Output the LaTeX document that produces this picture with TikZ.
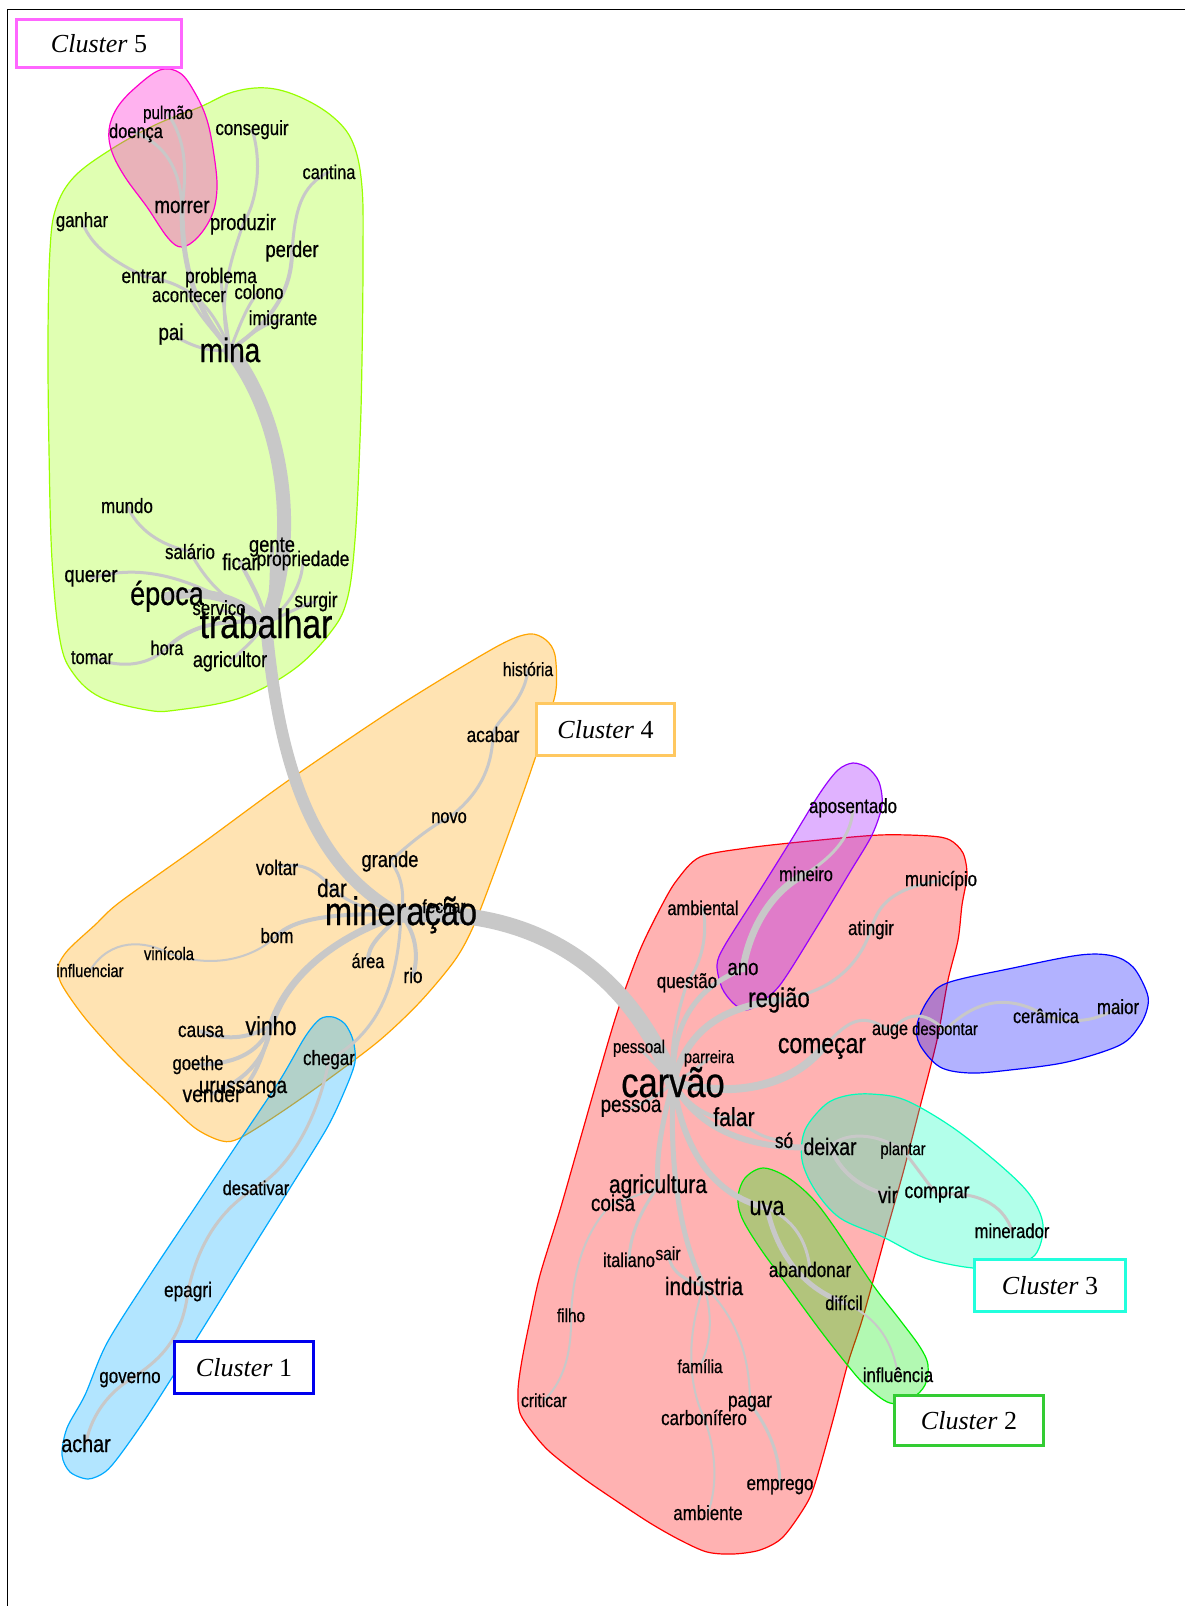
\documentclass[tikz,border=0pt]{standalone}
\usepackage{fontspec}
\newfontfamily\wf{Liberation Sans}[FakeStretch=0.82,FakeBold=0.6]
\newfontfamily\cf{Liberation Serif}
\pgfdeclarelayer{paper}
\pgfdeclarelayer{halos}
\pgfdeclarelayer{links}
\pgfsetlayers{paper,halos,links,main}
\definecolor{lkgray}{RGB}{200,200,200}
\definecolor{hgreen}{HTML}{99FF00}
\definecolor{hmag}{HTML}{FF00CC}
\definecolor{horange}{HTML}{FFA500}
\definecolor{hsky}{HTML}{00AAFF}
\definecolor{hred}{HTML}{FF0000}
\definecolor{hpurple}{HTML}{9900FF}
\definecolor{hblue}{HTML}{0000FF}
\definecolor{hcyan}{HTML}{00FFBB}
\definecolor{hlime}{HTML}{00EE00}
\definecolor{bmag}{HTML}{FF66FF}
\definecolor{borange}{HTML}{FFC860}
\definecolor{bblue}{HTML}{0000EE}
\definecolor{bcyan}{HTML}{22FFDD}
\definecolor{bgreen}{HTML}{33CC33}
\begin{document}
\begin{tikzpicture}[x=0.75pt,y=-0.75pt,
  w/.style={font=\wf\fontsize{#1}{#1}\selectfont, inner sep=0pt, anchor=base, text=black},
  lk/.style={draw=lkgray, line width=#1, line cap=round, line join=round},
  halo/.style={draw=#1, fill=#1, fill opacity=0.3, line width=0.9pt},
  cbox/.style={draw=#1, line width=2.25pt, fill=white, inner sep=0pt,
    font=\cf\fontsize{19.5}{19.5}\selectfont}]
\useasboundingbox (0,0) rectangle (1185,1606);
\begin{pgfonlayer}{paper}
\fill[white] (0,0) rectangle (1185,1606);
\end{pgfonlayer}
\draw[line width=1.3pt] (7.5,1606) -- (7.5,9.5) -- (1185,9.5);

% ---------- halos ----------
\begin{pgfonlayer}{halos}
\draw[halo=hgreen] plot[smooth cycle, tension=0.6] coordinates {
 (200,107) (233,92) (267,88) (300,97) (333,117) (353,143) (362,187) (363,260)
 (362,360) (360,440) (355,540) (347,600) (330,633) (293,670) (240,698) (177,710)
 (147,710) (100,697) (73,673) (60,640) (52,560) (49,450) (48,340) (50,250)
 (56,208) (74,177) (110,150) (155,125)};
\draw[halo=hmag] plot[smooth cycle, tension=0.6] coordinates {
 (160,70) (180,73) (195,93) (207,120) (214,155) (217,188) (212,215) (198,237)
 (182,247) (168,238) (147,207) (125,177) (112,152) (109,130) (117,108) (135,88)};
\draw[halo=horange] plot[smooth cycle, tension=0.5] coordinates {
 (529,634) (546,640) (555,655) (556,690) (546,725) (526,785) (496,868) (474,925)
 (455,960) (420,1002) (380,1040) (330,1078) (280,1113) (240,1138) (222,1141)
 (195,1128) (163,1098) (120,1057) (85,1018) (62,985) (58,967) (68,950) (95,925)
 (120,902) (200,845) (289,780) (400,705) (496,647)};
\draw[halo=hsky] plot[smooth cycle, tension=0.5] coordinates {
 (333,1017) (345,1024) (353,1040) (355,1062) (345,1090) (327,1128) (290,1188)
 (250,1252) (200,1333) (150,1412) (120,1455) (105,1472) (88,1479) (70,1472)
 (62,1455) (67,1428) (85,1395) (107,1343) (150,1275) (200,1200) (240,1140)
 (280,1080) (305,1037) (320,1019)};
\draw[halo=hred] plot[smooth cycle, tension=0.5] coordinates {
 (700,857) (747,848) (810,841) (880,835) (930,836) (950,840) (963,853) (967,875)
 (962,905) (958,940) (948,980) (937,1040) (920,1107) (903,1173) (885,1237)
 (863,1317) (848,1363) (833,1420) (817,1477) (807,1503) (783,1537) (760,1550)
 (733,1554) (707,1552) (680,1540) (650,1523) (615,1500) (583,1478) (550,1452)
 (533,1433) (520,1413) (518,1390) (522,1360) (530,1320) (540,1275) (560,1210)
 (580,1140) (600,1070) (618,1010) (640,950) (662,905) (677,880)};
\draw[halo=hpurple] plot[smooth cycle, tension=0.5] coordinates {
 (853,763) (868,768) (879,782) (882,805) (872,835) (850,872) (815,930) (780,985)
 (757,1005) (745,1010) (733,1003) (722,988) (717,965) (725,945) (760,890)
 (790,842) (820,793) (838,770)};
\draw[halo=hblue] plot[smooth cycle, tension=0.55] coordinates {
 (1080,955) (1113,956) (1133,967) (1146,990) (1148,1005) (1140,1025) (1120,1045)
 (1067,1062) (1010,1070) (970,1073) (940,1067) (920,1045) (917,1025) (928,1000)
 (947,983) (1013,968)};
\draw[halo=hcyan] plot[smooth cycle, tension=0.55] coordinates {
 (871,1094) (905,1100) (952,1127) (1000,1165) (1030,1195) (1043,1225) (1035,1255)
 (1007,1266) (973,1268) (925,1258) (883,1237) (840,1218) (815,1190) (802,1160)
 (805,1130) (825,1105) (845,1096)};
\draw[halo=hlime] plot[smooth cycle, tension=0.55] coordinates {
 (763,1168) (787,1177) (812,1198) (835,1228) (873,1285) (900,1320) (920,1347)
 (928,1365) (925,1385) (912,1398) (890,1403) (865,1385) (845,1362) (820,1330)
 (787,1285) (760,1248) (742,1218) (738,1197) (745,1178)};
\end{pgfonlayer}

% ---------- words ----------
\node[w=13.9] (pulmao) at (168,119) {pulmão};
\node[w=15] (doenca) at (136,138) {doença};
\node[w=15.4] (conseguir) at (252,135) {conseguir};
\node[w=15] (cantina) at (329,179) {cantina};
\node[w=15.3] (ganhar) at (82,227) {ganhar};
\node[w=17.1] (morrer) at (182,213) {morrer};
\node[w=16.7] (produzir) at (243,230) {produzir};
\node[w=16.8] (perder) at (292,257) {perder};
\node[w=15.75] (entrar) at (144,283) {entrar};
\node[w=15.75] (problema) at (221,283) {problema};
\node[w=15.4] (acontecer) at (189,302) {acontecer};
\node[w=15.2] (colono) at (259,299) {colono};
\node[w=15.2] (imigrante) at (283,325) {imigrante};
\node[w=17.1] (pai) at (171,340) {pai};
\node[w=25.5] (mina) at (230,362) {mina};
\node[w=15.5] (mundo) at (127,513) {mundo};
\node[w=15.5] (salario) at (190,559) {salário};
\node[w=16.8] (gente) at (272,552) {gente};
\node[w=17.2] (ficar) at (240,570) {ficar};
\node[w=15.9] (propriedade) at (303,566) {propriedade};
\node[w=16.8] (querer) at (91,582) {querer};
\node[w=24.75] (epoca) at (167,605) {época};
\node[w=15.3] (servico) at (219,615) {serviço};
\node[w=15.75] (surgir) at (316,607) {surgir};
\node[w=30.75] (trabalhar) at (266,638) {trabalhar};
\node[w=15] (tomar) at (92,664) {tomar};
\node[w=15] (hora) at (167,655) {hora};
\node[w=16.5] (agricultor) at (230,667) {agricultor};

\node[w=14.25] (historia) at (528,676) {história};
\node[w=15.75] (acabar) at (493,742) {acabar};
\node[w=15] (novo) at (449,823) {novo};
\node[w=16.7] (grande) at (390,867) {grande};
\node[w=15.75] (voltar) at (277,875) {voltar};
\node[w=18.75] (dar) at (332,897) {dar};
\node[w=14.25] (fechar) at (444,913) {fechar};
\node[w=29.8] (mineracao) at (401,925) {mineração};
\node[w=15.5] (bom) at (277,943) {bom};
\node[w=13.5] (vinicola) at (169,960) {vinícola};
\node[w=13.5] (influenciar) at (90,977) {influenciar};
\node[w=15] (area) at (368,968) {área};
\node[w=15.75] (rio) at (413,983) {rio};
\node[w=19.5] (vinho) at (271,1035) {vinho};
\node[w=15.75] (causa) at (201,1037) {causa};
\node[w=15.2] (goethe) at (198,1070) {goethe};
\node[w=17.25] (urussanga) at (243,1093) {urussanga};
\node[w=17.6] (vender) at (212,1102) {vender};
\node[w=15.5] (chegar) at (329,1065) {chegar};

\node[w=15] (desativar) at (256,1195) {desativar};
\node[w=15.75] (epagri) at (188,1297) {epagri};
\node[w=15.5] (governo) at (130,1383) {governo};
\node[w=18] (achar) at (86,1452) {achar};

\node[w=15.4] (aposentado) at (853,813) {aposentado};
\node[w=15] (mineiro) at (806,881) {mineiro};
\node[w=15.4] (municipio) at (941,886) {município};
\node[w=15] (ambiental) at (703,915) {ambiental};
\node[w=15.4] (atingir) at (871,935) {atingir};
\node[w=17] (ano) at (743,975) {ano};
\node[w=15.5] (questao) at (687,988) {questão};
\node[w=20.25] (regiao) at (779,1007) {região};
\node[w=14.8] (auge) at (890,1035) {auge};
\node[w=13.5] (despontar) at (945,1035) {despontar};
\node[w=21] (comecar) at (822,1053) {começar};
\node[w=14.85] (ceramica) at (1046,1023) {cerâmica};
\node[w=15.4] (maior) at (1118,1014) {maior};
\node[w=13.8] (pessoal) at (639,1053) {pessoal};
\node[w=13.3] (parreira) at (709,1063) {parreira};
\node[w=31.5] (carvao) at (673,1097) {carvão};
\node[w=17.25] (pessoa) at (631,1112) {pessoa};
\node[w=19.5] (falar) at (734,1126) {falar};
\node[w=15.75] (so) at (784,1148) {só};
\node[w=17.8] (deixar) at (830,1155) {deixar};
\node[w=13.5] (plantar) at (903,1155) {plantar};
\node[w=17.25] (vir) at (888,1203) {vir};
\node[w=16.2] (comprar) at (937,1198) {comprar};
\node[w=15.2] (minerador) at (1012,1238) {minerador};
\node[w=19.2] (agricultura) at (658,1193) {agricultura};
\node[w=17.25] (coisa) at (613,1211) {coisa};
\node[w=19.9] (uva) at (767,1215) {uva};
\node[w=15] (italiano) at (629,1267) {italiano};
\node[w=14.25] (sair) at (668,1260) {sair};
\node[w=18.9] (industria) at (704,1295) {indústria};
\node[w=15.75] (abandonar) at (810,1277) {abandonar};
\node[w=15] (dificil) at (844,1310) {difícil};
\node[w=14] (filho) at (571,1322) {filho};
\node[w=14] (familia) at (700,1373) {família};
\node[w=14.25] (criticar) at (544,1407) {criticar};
\node[w=15.75] (pagar) at (750,1407) {pagar};
\node[w=15.5] (carbonifero) at (704,1425) {carbonífero};
\node[w=15.5] (emprego) at (780,1490) {emprego};
\node[w=15.4] (ambiente) at (708,1520) {ambiente};
\node[w=15.2] (influencia) at (898,1382) {influência};

% ---------- links ----------
\begin{pgfonlayer}{links}
% around mina
\draw[lk=3.75pt] (mina.center) .. controls (192,305) and (182,262) .. (morrer.center);
\draw[lk=2.25pt] (morrer.center) .. controls (187,170) and (186,140) .. (pulmao.center);
\draw[lk=2.25pt] (morrer.center) .. controls (180,168) and (165,145) .. (doenca.center);
\draw[lk=2.25pt] (mina.center) .. controls (215,300) and (234,252) .. (produzir.center);
\draw[lk=2.25pt] (produzir.center) .. controls (258,200) and (262,160) .. (conseguir.center);
\draw[lk=3pt] (mina.center) .. controls (272,322) and (292,290) .. (perder.center);
\draw[lk=2.25pt] (perder.center) .. controls (295,212) and (300,186) .. (cantina.center);
\draw[lk=2.25pt] (mina.center) .. controls (212,305) and (190,283) .. (entrar.center);
\draw[lk=2.25pt] (entrar.center) .. controls (115,262) and (92,248) .. (ganhar.center);
\draw[lk=2.25pt] (mina.center) .. controls (240,325) and (247,305) .. (colono.center);
\draw[lk=2.25pt] (mina.center) .. controls (250,335) and (265,322) .. (imigrante.center);
\draw[lk=2.25pt] (mina.center) .. controls (210,352) and (195,348) .. (pai.center);
\draw[lk=2.25pt] (mina.center) .. controls (205,322) and (195,308) .. (acontecer.center);
\draw[lk=2.25pt] (mina.center) .. controls (226,322) and (222,296) .. (problema.center);
\draw[lk=10.5pt] (mina.center) .. controls (285,420) and (300,540) .. (trabalhar.center);
% around trabalhar
\draw[lk=6.75pt] (trabalhar.center) .. controls (240,600) and (210,588) .. (epoca.center);
\draw[lk=2.25pt] (trabalhar.center) .. controls (225,602) and (205,580) .. (salario.center);
\draw[lk=2.25pt] (salario.center) .. controls (160,545) and (138,530) .. (mundo.center);
\draw[lk=2.25pt] (trabalhar.center) .. controls (205,585) and (150,560) .. (querer.center);
\draw[lk=3pt] (trabalhar.center) .. controls (262,600) and (250,582) .. (ficar.center);
\draw[lk=3pt] (trabalhar.center) .. controls (272,600) and (272,570) .. (gente.center);
\draw[lk=2.25pt] (trabalhar.center) .. controls (290,605) and (302,585) .. (propriedade.center);
\draw[lk=2.25pt] (trabalhar.center) .. controls (290,612) and (305,604) .. (surgir.center);
\draw[lk=2.25pt] (trabalhar.center) .. controls (245,617) and (230,612) .. (servico.center);
\draw[lk=3pt] (trabalhar.center) .. controls (215,617) and (185,630) .. (hora.center);
\draw[lk=2.25pt] (hora.center) .. controls (150,664) and (125,670) .. (tomar.center);
\draw[lk=2.25pt] (trabalhar.center) .. controls (255,640) and (240,652) .. (agricultor.center);
\draw[lk=9pt] (trabalhar.center) .. controls (280,780) and (318,870) .. (mineracao.center);
% around mineração
\draw[lk=2.25pt] (mineracao.center) .. controls (405,895) and (402,875) .. (grande.center);
\draw[lk=2.25pt] (grande.center) .. controls (408,845) and (432,825) .. (novo.center);
\draw[lk=2.25pt] (novo.center) .. controls (478,795) and (492,770) .. (acabar.center);
\draw[lk=2.25pt] (acabar.center) .. controls (496,718) and (524,705) .. (historia.center);
\draw[lk=2.25pt] (mineracao.center) .. controls (370,910) and (350,905) .. (dar.center);
\draw[lk=2.25pt] (dar.center) .. controls (318,872) and (302,860) .. (voltar.center);
\draw[lk=3pt] (mineracao.center) .. controls (330,912) and (292,920) .. (bom.center);
\draw[lk=1.5pt] (bom.center) .. controls (255,957) and (215,970) .. (vinicola.center);
\draw[lk=1.5pt] (vinicola.center) .. controls (145,940) and (110,938) .. (influenciar.center);
\draw[lk=5.25pt] (mineracao.center) .. controls (330,938) and (285,980) .. (vinho.center);
\draw[lk=3pt] (mineracao.center) .. controls (380,935) and (368,945) .. (area.center);
\draw[lk=3pt] (mineracao.center) .. controls (418,935) and (418,960) .. (rio.center);
\draw[lk=2.25pt] (mineracao.center) .. controls (398,990) and (375,1035) .. (chegar.center);
\draw[lk=2.25pt] (mineracao.center) -- (fechar.center);
\draw[lk=3pt] (vinho.center) .. controls (245,1040) and (225,1040) .. (causa.center);
\draw[lk=3pt] (vinho.center) .. controls (258,1055) and (232,1064) .. (goethe.center);
\draw[lk=3pt] (vinho.center) .. controls (262,1060) and (255,1075) .. (urussanga.center);
\draw[lk=3pt] (vinho.center) .. controls (266,1062) and (240,1083) .. (vender.center);
\draw[lk=2.25pt] (chegar.center) .. controls (322,1100) and (300,1160) .. (desativar.center);
\draw[lk=2.25pt] (desativar.center) .. controls (210,1215) and (194,1262) .. (epagri.center);
\draw[lk=2.25pt] (epagri.center) .. controls (182,1340) and (160,1360) .. (governo.center);
\draw[lk=2.25pt] (governo.center) .. controls (105,1395) and (90,1420) .. (achar.center);
\draw[lk=12pt] (mineracao.center) .. controls (540,905) and (630,975) .. (carvao.center);
% around carvão
\draw[lk=3.75pt] (carvao.center) .. controls (672,1030) and (690,990) .. (ano.center);
\draw[lk=5.25pt] (ano.center) .. controls (750,925) and (775,888) .. (mineiro.center);
\draw[lk=2.25pt] (mineiro.center) .. controls (835,855) and (852,835) .. (aposentado.center);
\draw[lk=2.25pt] (carvao.center) .. controls (668,1040) and (682,1000) .. (questao.center);
\draw[lk=2.25pt] (questao.center) .. controls (702,962) and (708,935) .. (ambiental.center);
\draw[lk=5.25pt] (carvao.center) .. controls (688,1030) and (720,1008) .. (regiao.center);
\draw[lk=2.25pt] (regiao.center) .. controls (835,992) and (860,962) .. (atingir.center);
\draw[lk=2.25pt] (atingir.center) .. controls (878,905) and (892,888) .. (municipio.center);
\draw[lk=6pt] (carvao.center) .. controls (740,1100) and (795,1082) .. (comecar.center);
\draw[lk=2.25pt] (comecar.center) .. controls (845,1025) and (860,1008) .. (auge.center);
\draw[lk=2.25pt] (auge.center) .. controls (910,1008) and (928,1014) .. (despontar.center);
\draw[lk=2.25pt] (despontar.center) .. controls (975,1000) and (1008,993) .. (ceramica.center);
\draw[lk=2.25pt] (ceramica.center) .. controls (1075,1025) and (1100,1020) .. (maior.center);
\draw[lk=2.25pt] (carvao.center) .. controls (660,1070) and (650,1058) .. (pessoal.center);
\draw[lk=2.25pt] (carvao.center) .. controls (690,1075) and (700,1065) .. (parreira.center);
\draw[lk=2.25pt] (carvao.center) .. controls (660,1095) and (645,1102) .. (pessoa.center);
\draw[lk=3pt] (carvao.center) .. controls (690,1110) and (715,1122) .. (falar.center);
\draw[lk=2.25pt] (falar.center) .. controls (750,1130) and (765,1140) .. (so.center);
\draw[lk=4.5pt] (carvao.center) .. controls (700,1135) and (760,1152) .. (deixar.center);
\draw[lk=2.25pt] (deixar.center) .. controls (845,1132) and (875,1132) .. (plantar.center);
\draw[lk=3pt] (deixar.center) .. controls (840,1172) and (860,1188) .. (vir.center);
\draw[lk=2.25pt] (plantar.center) .. controls (915,1165) and (925,1180) .. (comprar.center);
\draw[lk=2.25pt] (comprar.center) .. controls (985,1190) and (1005,1210) .. (minerador.center);
\draw[lk=4.5pt] (carvao.center) .. controls (685,1160) and (720,1197) .. (uva.center);
\draw[lk=3.75pt] (uva.center) .. controls (776,1250) and (800,1287) .. (dificil.center);
\draw[lk=2.25pt] (uva.center) .. controls (800,1222) and (808,1250) .. (abandonar.center);
\draw[lk=1.5pt] (dificil.center) .. controls (880,1318) and (893,1345) .. (influencia.center);
\draw[lk=3.75pt] (carvao.center) .. controls (660,1130) and (656,1160) .. (agricultura.center);
\draw[lk=2.25pt] (agricultura.center) .. controls (640,1212) and (630,1235) .. (italiano.center);
\draw[lk=1.5pt] (agricultura.center) .. controls (640,1195) and (625,1200) .. (coisa.center);
\draw[lk=1.5pt] (coisa.center) .. controls (585,1230) and (573,1270) .. (filho.center);
\draw[lk=1.5pt] (filho.center) .. controls (572,1360) and (560,1385) .. (criticar.center);
\draw[lk=3.75pt] (carvao.center) .. controls (668,1200) and (690,1258) .. (industria.center);
\draw[lk=2.25pt] (industria.center) .. controls (675,1278) and (670,1265) .. (sair.center);
\draw[lk=1.5pt] (industria.center) .. controls (714,1320) and (710,1345) .. (familia.center);
\draw[lk=1.5pt] (industria.center) .. controls (686,1335) and (688,1385) .. (carbonifero.center);
\draw[lk=1.5pt] (carbonifero.center) .. controls (716,1450) and (718,1485) .. (ambiente.center);
\draw[lk=1.5pt] (industria.center) .. controls (740,1320) and (750,1362) .. (pagar.center);
\draw[lk=2.25pt] (pagar.center) .. controls (770,1430) and (780,1455) .. (emprego.center);
\end{pgfonlayer}

% ---------- cluster labels ----------
\node[cbox=bmag, minimum width=123.75pt, minimum height=36pt] (c5) at (99,43.5) {\textit{Cluster} 5};
\node[cbox=borange, minimum width=103.5pt, minimum height=39pt] (c4) at (605.5,729.5) {\textit{Cluster} 4};
\node[cbox=bblue, minimum width=104.25pt, minimum height=39pt] (c1) at (244,1367.5) {\textit{Cluster} 1};
\node[cbox=bcyan, minimum width=113.25pt, minimum height=39pt] (c3) at (1050,1285.5) {\textit{Cluster} 3};
\node[cbox=bgreen, minimum width=111.75pt, minimum height=37.5pt] (c2) at (969,1420.5) {\textit{Cluster} 2};
\end{tikzpicture}
\end{document}
